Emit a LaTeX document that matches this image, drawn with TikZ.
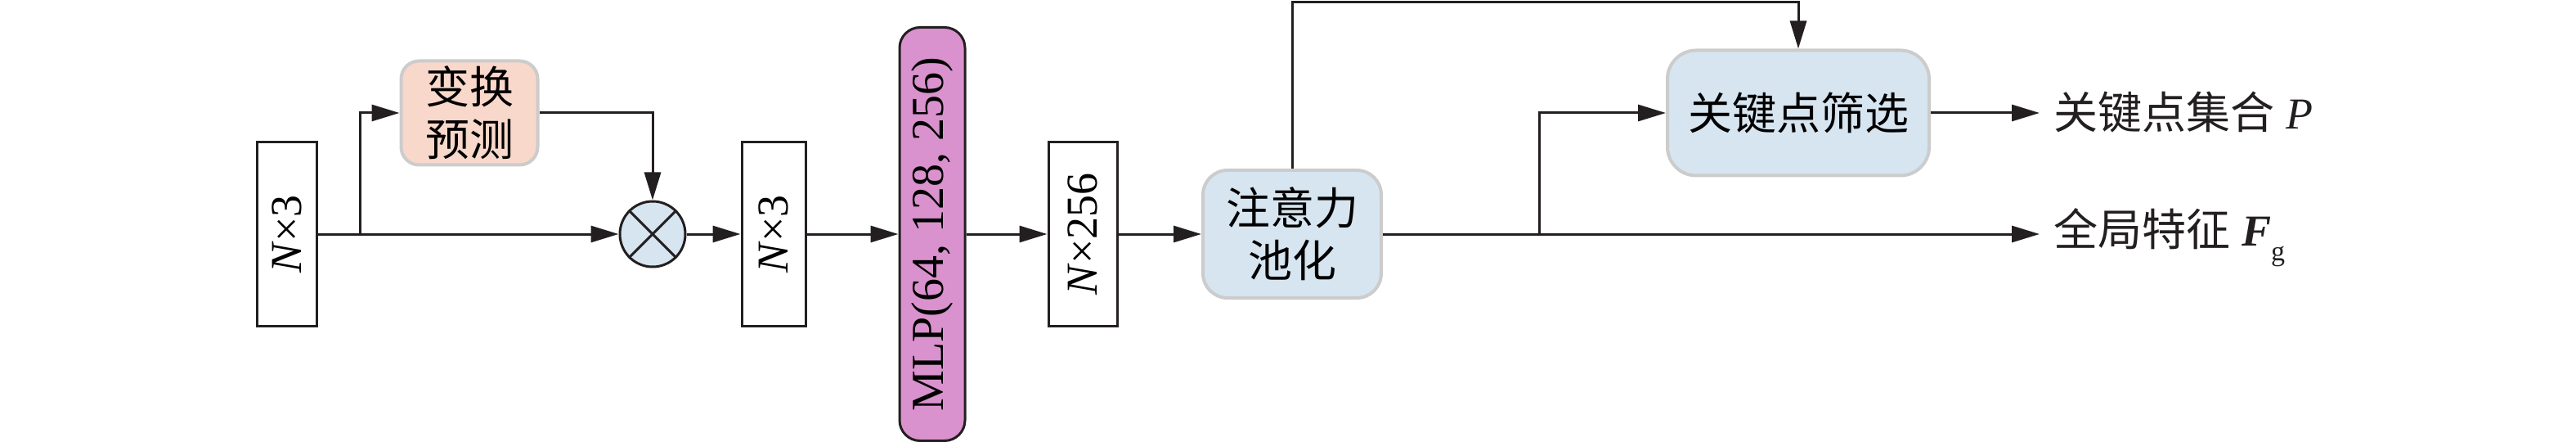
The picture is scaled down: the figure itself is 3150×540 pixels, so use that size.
\documentclass[tikz,border=0pt]{standalone}
\usepackage{fontspec}
\setmainfont{Liberation Serif}
\newfontfamily\cjk{Noto Sans CJK SC}
\usetikzlibrary{arrows.meta}
\definecolor{peach}{HTML}{F8D8CA}
\definecolor{lblue}{HTML}{D6E5F0}
\definecolor{orchid}{HTML}{D992CD}
\definecolor{gborder}{HTML}{CCCCCC}
\definecolor{ink}{HTML}{231F20}
\begin{document}
\begin{tikzpicture}[x=1pt,y=-1pt,
  line width=3pt, draw=ink,
  font=\fontsize{54}{64}\selectfont,
  arr/.style={-{Triangle[length=34pt,width=20pt]}},
  dimbox/.style={draw=ink, fill=white, minimum width=#1, minimum height=224pt, inner sep=0pt},
  softbox/.style={draw=gborder, line width=4pt, rounded corners=#1, inner sep=0pt, align=center},
  outtext/.style={anchor=west, inner sep=0pt, text=ink}
]
\useasboundingbox (0,0) rectangle (3150,540);

\node[dimbox=73pt] (b1) at (351,286) {\rotatebox{90}{\textit{N}×3}};
\node[softbox=22pt, fill=peach, minimum width=167pt, minimum height=127pt] (tp) at (574,138) {\cjk 变换\\\cjk 预测};
\node[circle, draw=ink, fill=lblue, minimum size=80pt, inner sep=0pt] (mul) at (798,286) {};
\draw (mul.north east) -- (mul.south west) (mul.north west) -- (mul.south east);
\node[dimbox=78pt] (b2) at (946,286) {\rotatebox{90}{\textit{N}×3}};
\node[draw=ink, fill=orchid, rounded corners=25pt, minimum width=80pt, minimum height=505pt, inner sep=0pt] (mlp) at (1140,286) {\rotatebox{90}{\fontsize{56}{64}\selectfont MLP(64, 128, 256)}};
\node[dimbox=84pt] (b3) at (1324,286) {\rotatebox{90}{\textit{N}×256}};
\node[softbox=30pt, fill=lblue, minimum width=218pt, minimum height=156pt] (pool) at (1580,286) {\cjk 注意力\\\cjk 池化};
\node[softbox=35pt, fill=lblue, minimum width=320pt, minimum height=153pt] (ks) at (2199,138) {\cjk 关键点筛选};

\node[outtext] (kp) at (2510,137) {{\cjk 关键点集合} \textit{P}};
\node[outtext] (gf) at (2510,280) {{\cjk 全局特征} \textbf{\textit{F}}\smash{\raisebox{-0.32em}{\fontsize{34}{34}\selectfont g}}};

\coordinate (br1) at (440,286);
\coordinate (topR) at (2199,3);
\coordinate (br2) at (1882,286);
\coordinate (gfend) at (2494,286);
\coordinate (kpend) at (2494,138);

\draw (b1.east) -- (br1);
\draw[arr] (br1) -- (mul.west);
\draw[arr] (br1) |- (tp.west);
\draw[arr] (tp.east) -| (mul.north);
\draw[arr] (mul.east) -- (b2.west);
\draw[arr] (b2.east) -- (mlp.west);
\draw[arr] (mlp.east) -- (b3.west);
\draw[arr] (b3.east) -- (pool.west);
\draw[arr] (pool.north) |- (topR) -- (ks.north);
\draw[arr] (pool.east) -- (gfend);
\draw[arr] (br2) |- (ks.west);
\draw[arr] (ks.east) -- (kpend);
\end{tikzpicture}
\end{document}
